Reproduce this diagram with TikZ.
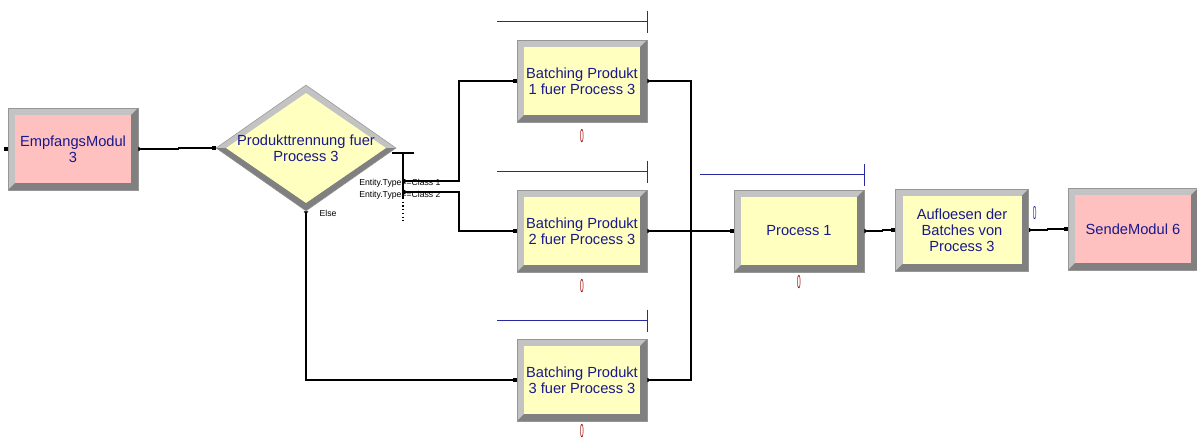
\documentclass[tikz,border=0pt]{standalone}
\usepackage{fontspec}
\setmainfont{Liberation Sans}
\usepackage{graphicx}
\usepackage{tikz}
\usetikzlibrary{arrows.meta,positioning,shapes.geometric}
\newlength{\pxu}
\setlength{\pxu}{0.75pt}
\definecolor{bevlight}{RGB}{195,195,195}
\definecolor{bevdark}{RGB}{128,128,128}
\definecolor{bevline}{RGB}{150,150,150}
\definecolor{pinkface}{RGB}{255,192,192}
\definecolor{yellowface}{RGB}{255,255,192}
\definecolor{modtext}{RGB}{25,25,140}
\definecolor{queueblue}{RGB}{40,40,160}
\definecolor{countred}{RGB}{160,0,0}
\newcommand{\cntzero}{\scalebox{0.35}[1]{0}}

\begin{document}
\begin{tikzpicture}[x=\pxu, y=-\pxu,
  module/.style={rectangle, draw=bevline, fill=bevlight, inner sep=0pt, minimum width=130\pxu, minimum height=82\pxu, align=center, text=modtext, font=\fontsize{11}{12}\selectfont,
    path picture={
      \fill[bevdark] (path picture bounding box.south west) -- (path picture bounding box.south east) -- (path picture bounding box.north east)
        -- ([shift={(-7\pxu,-7\pxu)}]path picture bounding box.north east) -- ([shift={(-7\pxu,7\pxu)}]path picture bounding box.south east)
        -- ([shift={(7\pxu,7\pxu)}]path picture bounding box.south west) -- cycle;
      \fill[#1] ([shift={(7\pxu,7\pxu)}]path picture bounding box.south west) rectangle ([shift={(-7\pxu,-7\pxu)}]path picture bounding box.north east);
    }},
  decide/.style={diamond, aspect=1.43, draw=bevline, fill=bevlight, inner sep=0pt, minimum width=180\pxu, minimum height=126\pxu, align=center, text=modtext, font=\fontsize{11}{12}\selectfont,
    path picture={
      \fill[bevdark] (path picture bounding box.west) -- (path picture bounding box.south) -- (path picture bounding box.east)
        -- ([xshift=-10\pxu]path picture bounding box.east) -- ([yshift=8\pxu]path picture bounding box.south)
        -- ([xshift=10\pxu]path picture bounding box.west) -- cycle;
      \fill[yellowface] ([xshift=10\pxu]path picture bounding box.west) -- ([yshift=-8\pxu]path picture bounding box.north)
        -- ([xshift=-10\pxu]path picture bounding box.east) -- ([yshift=8\pxu]path picture bounding box.south) -- cycle;
    }},
  port/.style={fill=black, inner sep=0pt, minimum size=4\pxu},
  link/.style={line width=0.8pt, {Latex[reversed,length=3pt,width=3.8pt]}-{Square[length=3pt,width=3pt]}},
  linkout/.style={line width=0.8pt, {Latex[reversed,length=3pt,width=3.8pt]}-},
  queue/.style={draw=queueblue, line width=1.1pt},
  counter/.style={inner sep=0pt, text=countred, font=\fontsize{14}{14}\selectfont},
  caselabel/.style={inner sep=0pt, font=\fontsize{6.5}{7}\selectfont}
]
\useasboundingbox (0,0) rectangle (1197,440);

\node[module=pinkface] (empf) at (73,149) {EmpfangsModul\\3};
\node[port] (empfIn) at ([xshift=-2\pxu]empf.west) {};

\node[decide] (split) at (306,148) {Produkttrennung fuer\\Process 3};

\node[module=yellowface] (batchA) at (582,81) {Batching Produkt\\1 fuer Process 3};
\node[module=yellowface] (batchB) at (582,231) {Batching Produkt\\2 fuer Process 3};
\node[module=yellowface] (batchC) at (582,380) {Batching Produkt\\3 fuer Process 3};

\node[module=yellowface] (proc) at (799,231) {Process 1};
\node[module=yellowface, minimum width=133\pxu] (aufl) at (962,230) {Aufloesen der\\Batches von\\Process 3};
\node[module=pinkface] (sende) at (1133,229) {SendeModul 6};

% queues and counters
\draw[queue] ([shift={(-150,-18)}]batchA.north east) -- ++(150,0) ++(0,-11) -- ++(0,22);
\draw[queue] ([shift={(-150,-18)}]batchB.north east) -- ++(150,0) ++(0,-11) -- ++(0,22);
\draw[queue] ([shift={(-150,-18)}]batchC.north east) -- ++(150,0) ++(0,-11) -- ++(0,22);
\draw[queue] ([shift={(-164,-15)}]proc.north east) -- ++(164,0) ++(0,-11) -- ++(0,22);

\node[counter] (cntA) at ([yshift=-55\pxu]batchA.center) {\cntzero};
\node[counter] (cntB) at ([yshift=-55\pxu]batchB.center) {\cntzero};
\node[counter] (cntC) at ([yshift=-51\pxu]batchC.center) {\cntzero};
\node[counter] (cntP) at ([yshift=-51\pxu]proc.center) {\cntzero};
\node[counter, text=queueblue] (cntU) at ([shift={(6,24)}]aufl.north east) {\cntzero};

% decide branches
\coordinate (barL) at (392,153);
\coordinate (barR) at (414,153);
\coordinate (barTop) at (403,153);
\coordinate (barEnd) at (403,198);
\coordinate (barDots) at (403,224);
\coordinate (caseA) at (404,181);
\coordinate (caseB) at (404,192);
\coordinate (merge) at (691,231);

\node[caselabel, anchor=base west] (labA) at (359,185) {Entity.Type==Class 1};
\node[caselabel, anchor=base west] (labB) at (359,197) {Entity.Type==Class 2};
\node[caselabel] (elseLab) at (328,213) {Else};

\draw[line width=0.8pt] (barL) -- (barR);
\draw[line width=0.8pt] (barTop) -- (barEnd);
\draw[line width=0.8pt, dotted] (barEnd) -- (barDots);

\draw[link] (empf.east) -- ++(40,0) |- (split.west);
\draw[link] (caseA) -- ++(55,0) |- (batchA.west);
\draw[link] (caseB) -- ++(55,0) |- (batchB.west);
\draw[link] (split.south) |- (batchC.west);

\draw[linkout] (batchA.east) -| (merge);
\draw[linkout] (batchC.east) -| (merge);
\draw[link] (batchB.east) -- (proc.west);
\draw[link] (proc.east) -- ++(18,0) |- (aufl.west);
\draw[link] (aufl.east) -- ++(19,0) |- (sende.west);

\end{tikzpicture}
\end{document}
